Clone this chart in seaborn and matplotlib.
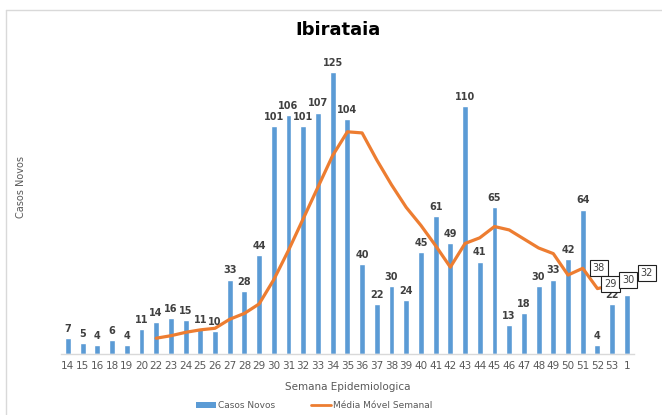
import numpy as np
import pandas as pd
import matplotlib
matplotlib.use("Agg")
import matplotlib.pyplot as plt
import seaborn as sns
from matplotlib.lines import Line2D
from matplotlib.patches import Patch

weeks = ["14", "15", "16", "18", "19", "20", "22", "23", "24", "25", "26", "27", "28", "29",
         "30", "31", "32", "33", "34", "35", "36", "37", "38", "39", "40", "41", "42", "43",
         "44", "45", "46", "47", "48", "49", "50", "51", "52", "53", "1"]
casos = [7, 5, 4, 6, 4, 11, 14, 16, 15, 11, 10, 33, 28, 44,
         101, 106, 101, 107, 125, 104, 40, 22, 30, 24, 45, 61, 49, 110,
         41, 65, 13, 18, 30, 33, 42, 64, 4, 22, 26]
# moving average starts at week 22
media_start = 6
media = [7.0, 8.1, 9.6, 10.7, 11.4, 15.4, 18.0, 22.2,
         33.0, 46.0, 60.0, 74.0, 88.0, 98.5, 98.0, 86.0, 75.0, 65.0, 57.0, 48.0, 38.5, 49.0,
         51.5, 56.5, 55.0, 51.0, 47.0, 44.5, 35.0, 38.0, 29.0, 30.4, 31.6]
boxed_weeks = ["51", "52", "53", "1"]

sns.set_theme(style="white")
plt.rcParams['font.family'] = ['DejaVu Sans']

fig = plt.figure(figsize=(6.62, 4.15), dpi=100)
ax = fig.add_axes([0.0915, 0.147, 0.8665, 0.761])

df = pd.DataFrame({"Semana": weeks, "Casos": casos})
sns.barplot(data=df, x="Semana", y="Casos", order=weeks, color="#5B9BD5",
            width=0.4, saturation=1, ax=ax)

pos = np.arange(media_start, media_start + len(media))
dm = pd.DataFrame({"pos": pos, "media": media})
sns.lineplot(data=dm, x="pos", y="media", color="#ED7D31", linewidth=2.3, ax=ax)

ax.set_xlim(-0.5, len(weeks) - 0.5)
ax.set_ylim(0, 140)
ax.set_yticks([])
for s in ["top", "right", "left"]:
    ax.spines[s].set_visible(False)
ax.spines["bottom"].set_color("#D9D9D9")
ax.spines["bottom"].set_linewidth(1)
ax.tick_params(axis="x", length=0, pad=5, labelsize=7.5, labelcolor="#595959")
ax.set_xlabel("Semana Epidemiologica", fontsize=7.5, color="#595959", labelpad=8)
ax.set_ylabel("Casos Novos", fontsize=7, color="#595959", labelpad=22)
ax.yaxis.set_label_coords(-0.06, 0.53)

for i, v in enumerate(casos):
    ax.annotate(f"{v}", (i, v), xytext=(0, 3), textcoords="offset points",
                ha="center", va="bottom", fontsize=7, color="#404040", fontweight="bold")

offsets = {"51": (7, 0), "52": (5, 3), "53": (7, 4), "1": (10, 7)}
for w in boxed_weeks:
    i = weeks.index(w)
    v = media[i - media_start]
    dx, dy = offsets[w]
    ax.annotate(f"{v:.0f}", (i, v), xytext=(dx, dy), textcoords="offset points",
                ha="left", va="center", fontsize=7, color="#404040",
                bbox=dict(boxstyle="square,pad=0.3", fc="white", ec="#202020", lw=0.8))

fig.text(0.51, 0.928, "Ibirataia", ha="center", va="center", fontsize=13,
         fontweight="bold", color="#000000")

handles = [Patch(facecolor="#5B9BD5", edgecolor="none"),
           Line2D([0], [0], color="#ED7D31", lw=2)]
fig.legend(handles, ["Casos Novos", "Média Móvel Semanal"], loc="center",
           bbox_to_anchor=(0.475, 0.022), ncol=2, frameon=False, fontsize=6.5,
           labelcolor="#595959", handlelength=2.2, handleheight=0.6, columnspacing=4,
           handletextpad=0.2)

# spreadsheet-like frame lines
fig.add_artist(Line2D([0.009, 0.009], [0.0, 0.975], color="#D9D9D9", lw=1, transform=fig.transFigure))
fig.add_artist(Line2D([0.009, 1.0], [0.975, 0.975], color="#D9D9D9", lw=1, transform=fig.transFigure))

fig.savefig("out.png", dpi=100, facecolor="white")
